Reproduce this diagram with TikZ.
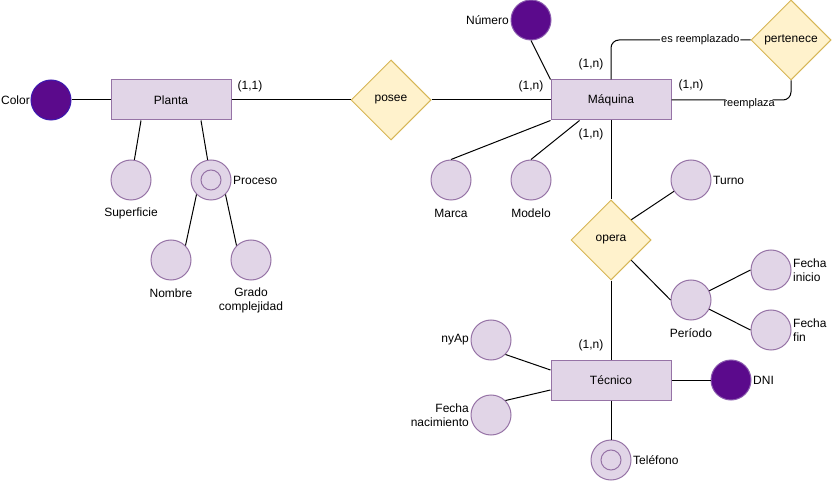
\documentclass[tikz,border=0pt]{standalone}
\usepackage{fontspec}
\setmainfont{Liberation Sans}
\usetikzlibrary{shapes.geometric,calc}
\definecolor{entfill}{HTML}{E1D5E7}
\definecolor{entdraw}{HTML}{9673A6}
\definecolor{relfill}{HTML}{FFF2CC}
\definecolor{reldraw}{HTML}{D6B656}
\definecolor{keyfill}{HTML}{5B0A8C}
\definecolor{keydrawA}{HTML}{3D1AB0}
\definecolor{keydrawB}{HTML}{8A5AAE}
\begin{document}
\begin{tikzpicture}[x=1pt,y=-1pt, font=\fontsize{12}{14}\selectfont,
 entity/.style={rectangle, draw=entdraw, fill=entfill, line width=1pt, minimum width=120pt, minimum height=40pt, inner sep=0},
 rel/.style={diamond, draw=reldraw, fill=relfill, line width=1pt, minimum width=80pt, minimum height=80pt, inner sep=0, aspect=1},
 attr/.style={circle, draw=entdraw, fill=entfill, line width=1pt, minimum size=40pt, inner sep=0},
 keyattr/.style={circle, draw=keydrawB, fill=keyfill, line width=1pt, minimum size=40pt, inner sep=0},
 innerc/.style={circle, draw=entdraw, line width=1pt, minimum size=20pt, inner sep=0},
 lbl/.style={inner sep=0, align=center},
 conn/.style={draw=black, line width=1pt},
 elbl/.style={fill=white, inner sep=1pt, font=\fontsize{11}{13}\selectfont}
]
\useasboundingbox (0,0) rectangle (836,481);

% entities
\node[entity] (planta) at (171,100) {Planta};
\node[entity] (maquina) at (611,100) {Máquina};
\node[entity] (tecnico) at (611,380) {Técnico};

% relationships
\node[rel] (posee) at (391,100) {posee};
\node[rel] (pert) at (791,40) {pertenece};
\node[rel] (opera) at (611,240) {opera};

% attributes
\node[keyattr, draw=keydrawA] (color) at (51,100) {};
\node[attr] (sup) at (131,180) {};
\node[attr] (proc) at (211,180) {};
\node[innerc] (procin) at (211,180) {};
\node[attr] (nombre) at (171,260) {};
\node[attr] (grado) at (251,260) {};
\node[keyattr] (num) at (531,20) {};
\node[attr] (marca) at (451,180) {};
\node[attr] (modelo) at (531,180) {};
\node[attr] (turno) at (691,180) {};
\node[attr] (periodo) at (691,300) {};
\node[attr] (fini) at (771,270) {};
\node[attr] (ffin) at (771,330) {};
\node[attr] (nyap) at (491,340) {};
\node[attr] (fnac) at (491,415) {};
\node[keyattr] (dni) at (731,380) {};
\node[attr] (tel) at (611,460) {};
\node[innerc] (telin) at (611,460) {};

% attribute labels
\node[lbl, anchor=east] (lcolor) at (30,100) {Color};
\node[lbl] (lsup) at (131,213) {Superficie};
\node[lbl, anchor=west] (lproc) at (233,180) {Proceso};
\node[lbl] (lnombre) at (171,293) {Nombre};
\node[lbl] (lgrado) at (251,300) {Grado\\complejidad};
\node[lbl, anchor=east] (lnum) at (509,20) {Número};
\node[lbl] (lmarca) at (451,213) {Marca};
\node[lbl] (lmodelo) at (531,213) {Modelo};
\node[lbl, anchor=west] (lturno) at (713,180) {Turno};
\node[lbl] (lperiodo) at (691,333) {Período};
\node[lbl, anchor=west, align=left] (lfini) at (793,270) {Fecha\\inicio};
\node[lbl, anchor=west, align=left] (lffin) at (793,330) {Fecha\\fin};
\node[lbl, anchor=east] (lnyap) at (469,340) {nyAp};
\node[lbl, anchor=east, align=right] (lfnac) at (469,415) {Fecha\\nacimiento};
\node[lbl, anchor=west] (ldni) at (753,380) {DNI};
\node[lbl, anchor=west] (ltel) at (633,460) {Teléfono};

% cardinalities
\node[lbl] (c1) at (250,86) {(1,1)};
\node[lbl] (c2) at (531,86) {(1,n)};
\node[lbl] (c3) at (591,64) {(1,n)};
\node[lbl] (c4) at (691,85) {(1,n)};
\node[lbl] (c5) at (591,134) {(1,n)};
\node[lbl] (c6) at (591,345) {(1,n)};

% connectors
\draw[conn] (color) -- (planta);
\draw[conn] ($(planta.south)+(-30,0)$) -- (sup);
\draw[conn] ($(planta.south)+(30,0)$) -- (proc);
\draw[conn] (proc.-135) -- (nombre.45);
\draw[conn] (proc.-45) -- (grado.135);
\draw[conn] (planta) -- (posee);
\draw[conn] (posee) -- (maquina);
\draw[conn] (num.south) -- (maquina.north west);
\draw[conn] (maquina.south west) -- (marca.north);
\draw[conn] ($(maquina.south west)+(29,0)$) -- (modelo.north);
\draw[conn, rounded corners=8pt] (maquina.north) |- (pert.west)
  node[pos=0.82, elbl] {es reemplazado};
\draw[conn, rounded corners=8pt] (maquina.east) -| (pert.south)
  node[pos=0.325, elbl, yshift=-4pt] {reemplaza};
\draw[conn] (maquina) -- (opera);
\draw[conn] (opera) -- (tecnico);
\draw[conn] ($(opera.north)!0.5!(opera.east)$) -- (turno);
\draw[conn] ($(opera.east)!0.5!(opera.south)$) -- (periodo.west);
\draw[conn] (periodo) -- (fini.west);
\draw[conn] (periodo) -- (ffin.west);
\draw[conn] (nyap.-45) -- ($(tecnico.west)+(0,-10)$);
\draw[conn] (fnac.45) -- ($(tecnico.west)+(0,10)$);
\draw[conn] (tecnico) -- (dni);
\draw[conn] (tecnico) -- (tel);
\end{tikzpicture}
\end{document}
